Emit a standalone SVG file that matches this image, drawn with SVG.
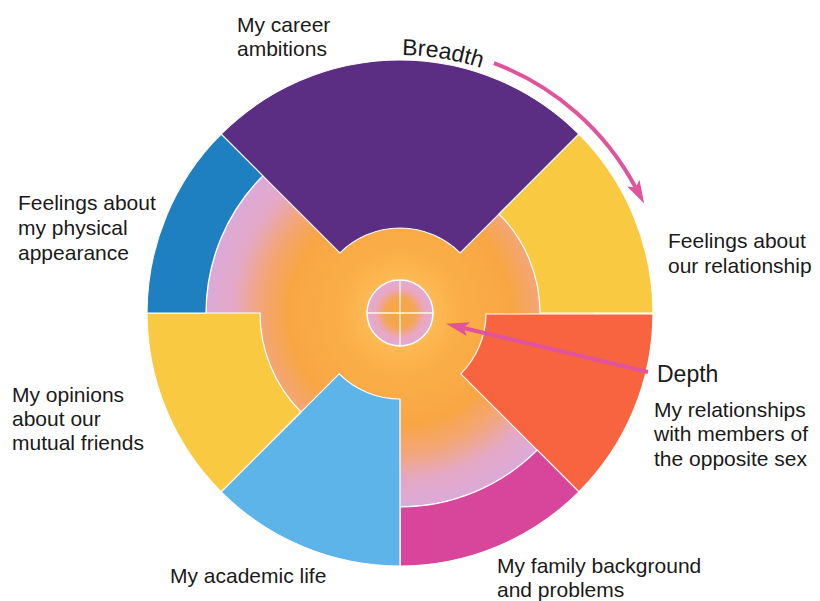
<svg xmlns="http://www.w3.org/2000/svg" width="820" height="601" viewBox="0 0 820 601">
  <style>
    .lbl { font-family: "Liberation Sans", Arial, sans-serif; font-size: 21px; fill: #1a1a1a; }
    .big { font-family: "Liberation Sans", Arial, sans-serif; font-size: 23px; fill: #1a1a1a; }
    .seg { stroke: #ffffff; stroke-width: 1.2; stroke-linejoin: round; }
    .arr { fill: none; stroke: #e0549b; stroke-width: 4; }
  </style>
  <defs>
    <radialGradient id="coreGrad" gradientUnits="userSpaceOnUse" cx="400" cy="313" r="194">
      <stop offset="0" stop-color="#ffc866"/>
      <stop offset="0.3" stop-color="#fbaf48"/>
      <stop offset="0.58" stop-color="#f8a644"/>
      <stop offset="0.72" stop-color="#f3a678"/>
      <stop offset="0.86" stop-color="#e4a8c6"/>
      <stop offset="1" stop-color="#dbaad9"/>
    </radialGradient>
    <radialGradient id="hubGrad" gradientUnits="userSpaceOnUse" cx="400" cy="313" r="33">
      <stop offset="0" stop-color="#f9a63c"/>
      <stop offset="0.45" stop-color="#f6a552"/>
      <stop offset="0.75" stop-color="#e9a7c2"/>
      <stop offset="1" stop-color="#e2aad4"/>
    </radialGradient>
    <marker id="head" markerUnits="userSpaceOnUse" markerWidth="24" markerHeight="14" refX="5" refY="7" orient="auto">
      <path d="M0,0 L23,7 L0,14 L5,7 Z" fill="#e0549b"/>
    </marker>
  </defs>

  <g id="core">
    <circle cx="400" cy="313" r="194" fill="url(#coreGrad)"/>
    <circle cx="400" cy="313" r="194" fill="none" stroke="#ffffff" stroke-width="1.2"/>
  </g>

  <g id="node-career">
    <path class="seg" fill="#5b2e84" d="M221.1,134.1 A253,253 0 0 1 578.9,134.1 L460.1,252.9 A85,85 0 0 0 339.9,252.9 Z"/>
    <text class="lbl" x="237" y="32">My career</text>
    <text class="lbl" x="237" y="56">ambitions</text>
  </g>

  <g id="node-relationship">
    <path class="seg" fill="#f9c942" d="M578.9,134.1 A253,253 0 0 1 653,313 L540,313 A140,140 0 0 0 499,214 Z"/>
    <text class="lbl" x="668" y="248">Feelings about</text>
    <text class="lbl" x="668" y="273">our relationship</text>
  </g>

  <g id="node-opposite-sex">
    <path class="seg" fill="#f8643f" d="M653,314 A253,253 0 0 1 578.9,491.9 L460.8,373.8 A86,86 0 0 0 486,314 Z"/>
    <text class="lbl" x="654" y="417">My relationships</text>
    <text class="lbl" x="654" y="441">with members of</text>
    <text class="lbl" x="654" y="466">the opposite sex</text>
  </g>

  <g id="node-family">
    <path class="seg" fill="#d8469b" d="M578.9,491.9 A253,253 0 0 1 400,566 L400,507 A194,194 0 0 0 537.2,450.2 Z"/>
    <text class="lbl" x="497" y="573">My family background</text>
    <text class="lbl" x="497" y="597">and problems</text>
  </g>

  <g id="node-academic">
    <path class="seg" fill="#5cb4e8" d="M400,566 A253,253 0 0 1 221.1,491.9 L339.2,373.8 A86,86 0 0 0 400,399 Z"/>
    <text class="lbl" x="170" y="583">My academic life</text>
  </g>

  <g id="node-friends">
    <path class="seg" fill="#f9c942" d="M221.1,491.9 A253,253 0 0 1 147,313 L260,313 A140,140 0 0 0 301,412 Z"/>
    <text class="lbl" x="12" y="402">My opinions</text>
    <text class="lbl" x="12" y="426">about our</text>
    <text class="lbl" x="12" y="450">mutual friends</text>
  </g>

  <g id="node-appearance">
    <path class="seg" fill="#1f80c1" d="M147,313 A253,253 0 0 1 221.1,134.1 L262.8,175.8 A194,194 0 0 0 206,313 Z"/>
    <text class="lbl" x="18" y="210">Feelings about</text>
    <text class="lbl" x="18" y="235">my physical</text>
    <text class="lbl" x="18" y="260">appearance</text>
  </g>

  <g id="hub">
    <circle cx="400" cy="313" r="33" fill="url(#hubGrad)" stroke="#ffffff" stroke-width="1.5"/>
    <line x1="400" y1="280" x2="400" y2="346" stroke="#fff7e0" stroke-width="1.3"/>
    <line x1="367" y1="313" x2="433" y2="313" stroke="#fff7e0" stroke-width="1.3"/>
  </g>

  <g id="connectors">
    <path class="arr" d="M493.9,63.1 A267,267 0 0 1 635.7,187.6" marker-end="url(#head)"/>
    <path class="arr" stroke-width="3" d="M648,372 L463.5,328" marker-end="url(#head)"/>
  </g>

  <g id="labels-axes">
    <path id="breadthText" d="M355.2,58.9 A258,258 0 0 1 529,89.6" fill="none"/>
    <text class="big"><textPath href="#breadthText" startOffset="47">Breadth</textPath></text>
    <text class="big" x="657" y="382">Depth</text>
  </g>
</svg>
